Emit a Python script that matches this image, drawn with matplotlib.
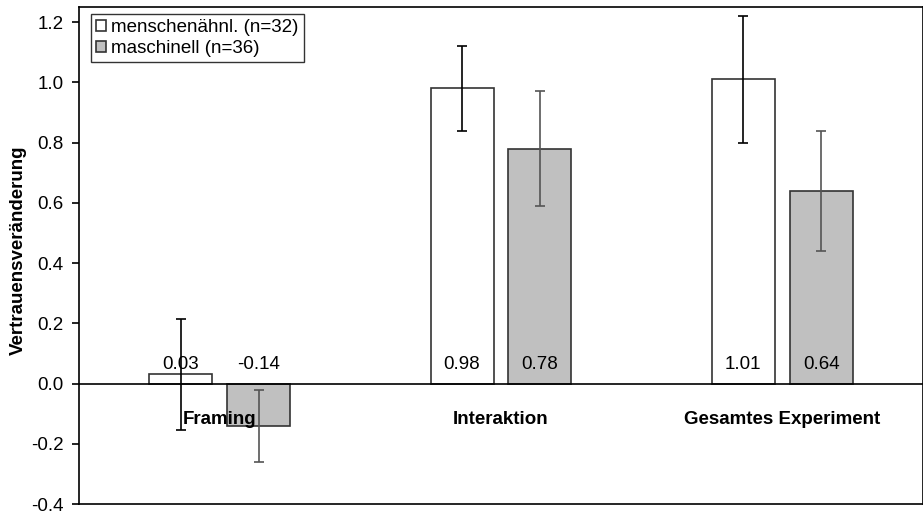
import matplotlib

matplotlib.use("Agg")
import matplotlib.pyplot as plt
import numpy as np

plt.rcParams["font.family"] = ["Liberation Sans", "DejaVu Sans"]

categories = ["Framing", "Interaktion", "Gesamtes Experiment"]
human_vals = [0.03, 0.98, 1.01]
human_err = [0.185, 0.14, 0.21]
machine_vals = [-0.14, 0.78, 0.64]
machine_err = [0.12, 0.19, 0.20]
series_labels = ["menschenähnl. (n=32)", "maschinell (n=36)"]

x = np.arange(len(categories))
w = 0.224
off = 0.1385
fs = 13.5

fig = plt.figure(figsize=(9.23, 5.12), dpi=100)
ax = fig.add_axes([0.0856, 0.0156, 0.9144, 0.9707])

ax.bar(x - off, human_vals, w, color="white", edgecolor="#333333", lw=1.2,
       label=series_labels[0], zorder=2)
ax.bar(x + off, machine_vals, w, color="#c0c0c0", edgecolor="#333333", lw=1.2,
       label=series_labels[1], zorder=2)
ax.errorbar(x - off, human_vals, yerr=human_err, fmt="none", ecolor="black",
            elinewidth=1.2, capsize=3.5, capthick=1.2, zorder=3)
ax.errorbar(x + off, machine_vals, yerr=machine_err, fmt="none", ecolor="#555555",
            elinewidth=1.2, capsize=3.5, capthick=1.2, zorder=3)

ax.axhline(0, color="black", lw=1.2, zorder=4)

# Datenbeschriftungen
for xi, v in zip(x - off, human_vals):
    ax.text(xi, 0.062, f"{v:.2f}", ha="center", va="center", fontsize=fs, zorder=5)
for xi, v in zip(x + off, machine_vals):
    ax.text(xi, 0.062, f"{v:.2f}", ha="center", va="center", fontsize=fs, zorder=5)

for xi, c in zip(x, categories):
    ax.text(xi, -0.12, c, ha="center", va="center", fontsize=fs, fontweight="bold")

ax.set_xlim(-0.5, 2.5)
ax.set_ylim(-0.4, 1.25)
ticks = np.arange(-0.4, 1.21, 0.2)
ax.set_yticks(ticks)
ax.set_yticklabels([f"{t:.1f}" for t in ticks])
ax.set_xticks([])
ax.tick_params(axis="y", direction="out", length=5, width=1.2, labelsize=fs, pad=6)
ax.set_ylabel("Vertrauensveränderung", fontsize=fs, fontweight="bold")
ax.yaxis.set_label_coords(-0.062, 0.511)
for s in ax.spines.values():
    s.set_linewidth(1.2)

leg = ax.legend(loc="upper left", bbox_to_anchor=(0.014, 0.985), fontsize=fs,
                frameon=True, fancybox=False, handlelength=0.55, handleheight=0.55,
                handletextpad=0.3, borderpad=0.25, labelspacing=0.2, borderaxespad=0)
leg.get_frame().set_edgecolor("black")
leg.get_frame().set_linewidth(1.0)

fig.savefig("out.png", dpi=100)
